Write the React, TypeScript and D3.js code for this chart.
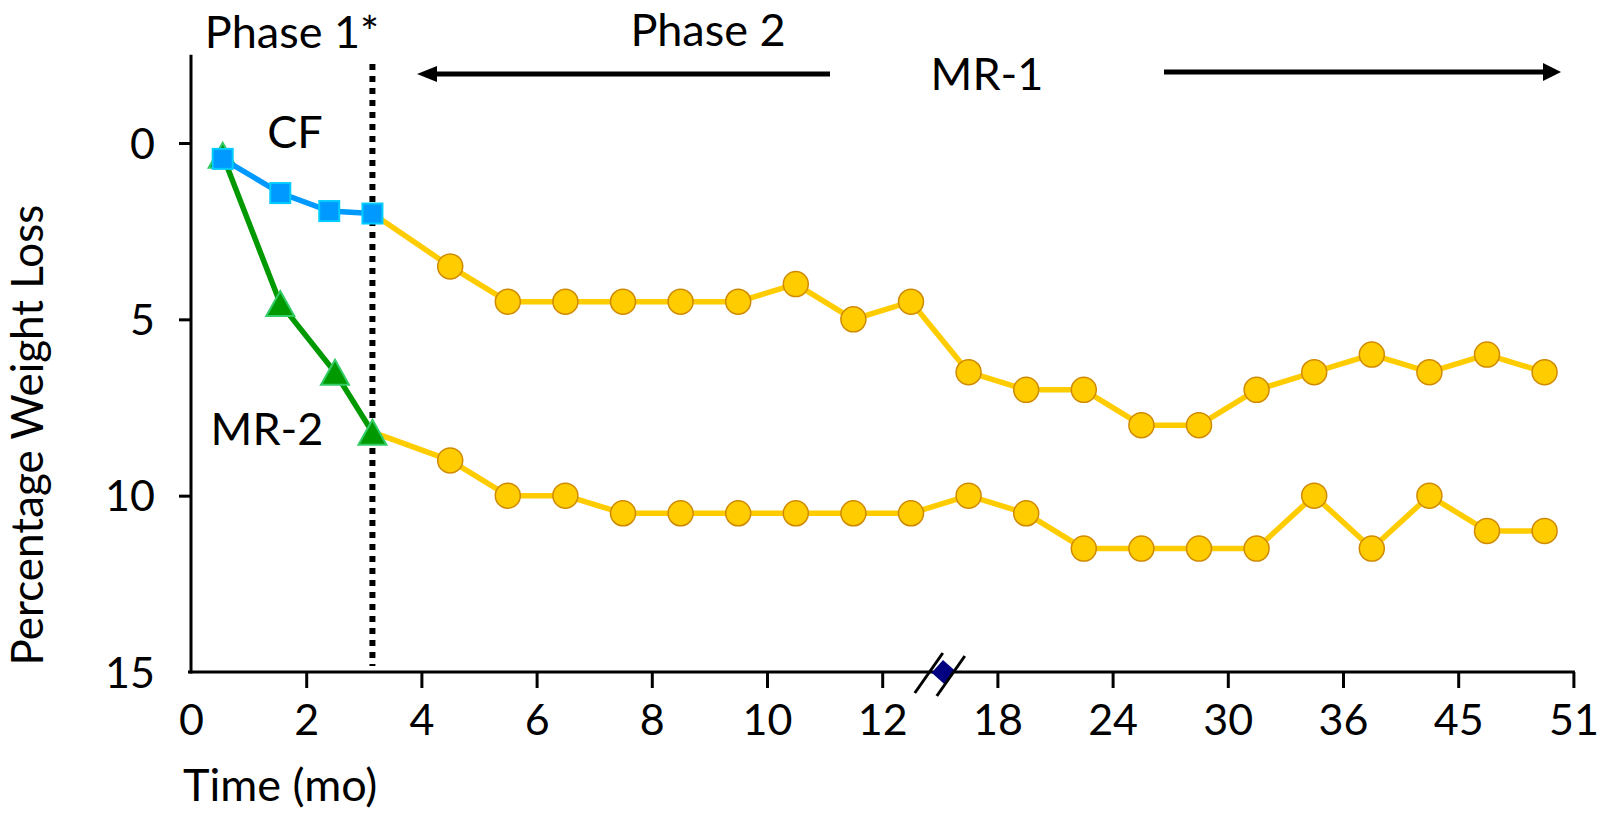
import React, { useEffect, useRef } from "react";
import * as d3 from "d3";

// axis labels (the x axis is broken between 12 and 18 months)
const xTicks = [0, 2, 4, 6, 8, 10, 12, 18, 24, 30, 36, 45, 51];
const yTicks = [0, 5, 10, 15];

// phase 1: CF group and MR-2 group (months, % weight loss)
const cfMonths = [0.55, 1.55, 2.4, 3.15];
const cfLoss = [0.45, 1.42, 1.93, 2.0];
const mr2Months = [0.55, 1.55, 2.5, 3.15];
const mr2Loss = [0.35, 4.55, 6.5, 8.2];

// phase 2: MR-1 follow up for both groups
const mr1Months = [4.5, 5.5, 6.5, 7.5, 8.5, 9.5, 10.5, 11.5, 13.5, 16.5, 19.5, 22.5, 25.5, 28.5, 31.5, 34.5, 38.25, 42.75, 46.5, 49.5];
const mr1AfterCF = [3.5, 4.5, 4.5, 4.5, 4.5, 4.5, 4.0, 5.0, 4.5, 6.5, 7.0, 7.0, 8.0, 8.0, 7.0, 6.5, 6.0, 6.5, 6.0, 6.5];
const mr1AfterMR2 = [9.0, 10.0, 10.0, 10.5, 10.5, 10.5, 10.5, 10.5, 10.5, 10.0, 10.5, 11.5, 11.5, 11.5, 11.5, 10.0, 11.5, 10.0, 11.0, 11.0];

const phaseSplit = 3.15;
const axisBreak = 15;
const breakMarker = { month: 15.2, loss: 15 };
const yAxisTop = -2.5;

const FONT = "Lato, 'Open Sans', sans-serif";

export default function App() {
  const ref = useRef<SVGSVGElement>(null);

  useEffect(() => {
    const width = 1600;
    const height = 813;
    const left = 191;
    const step = 115.2;

    const svg = d3.select(ref.current).attr("width", width).attr("height", height);
    svg.selectAll("*").remove();

    const x = d3.scaleLinear().domain(xTicks).range(xTicks.map((_, i) => left + i * step));
    const y = d3.scaleLinear().domain([0, 15]).range([143, 672]);

    // x axis
    const gx = svg.append("g")
      .attr("transform", `translate(0, ${y(15)})`)
      .call(d3.axisBottom(x).tickValues(xTicks).tickSize(16).tickSizeOuter(0).tickFormat(d3.format("d")))
      .attr("font-family", FONT).attr("font-size", 43);
    gx.select(".domain").remove();
    gx.selectAll(".tick line").attr("stroke", "#000").attr("stroke-width", 3);
    gx.selectAll(".tick").filter((d: any) => d === 0).select("line").remove();
    gx.selectAll(".tick text").attr("y", 63).attr("dy", null).attr("fill", "#000");

    // y axis (inverted)
    const gy = svg.append("g")
      .attr("transform", `translate(${left}, 0)`)
      .call(d3.axisLeft(y).tickValues(yTicks).tickSize(12).tickSizeOuter(0))
      .attr("font-family", FONT).attr("font-size", 43);
    gy.select(".domain").remove();
    gy.selectAll(".tick line").attr("stroke", "#000").attr("stroke-width", 3);
    gy.selectAll(".tick").filter((d: any) => d === 15).select("line").remove();
    gy.selectAll(".tick text").attr("x", -36).attr("dy", "0.35em").attr("fill", "#000");

    svg.append("line").attr("x1", x(0) - 3).attr("x2", x(51) + 1.5)
      .attr("y1", y(15)).attr("y2", y(15)).attr("stroke", "#000").attr("stroke-width", 3);
    svg.append("line").attr("x1", left).attr("x2", left)
      .attr("y1", y(yAxisTop)).attr("y2", y(15) + 1.5).attr("stroke", "#000").attr("stroke-width", 3);

    // break marker + slashes
    svg.append("rect")
      .attr("x", -8.5).attr("y", -8.5).attr("width", 17).attr("height", 17)
      .attr("fill", "#000080")
      .attr("transform", `translate(${x(breakMarker.month)}, ${y(breakMarker.loss)}) rotate(42)`);
    [[-11, 0], [11, 3]].forEach(([off, dy]) => {
      svg.append("line")
        .attr("x1", x(axisBreak) + off - 14).attr("y1", y(15) + 21 + dy)
        .attr("x2", x(axisBreak) + off + 14).attr("y2", y(15) - 19 + dy)
        .attr("stroke", "#000").attr("stroke-width", 3);
    });

    const line = d3.line<[number, number]>().x(d => x(d[0])).y(d => y(d[1]));
    const zip = (a: number[], b: number[]) => a.map((v, i) => [v, b[i]] as [number, number]);

    const cf = zip(cfMonths, cfLoss);
    const mr2 = zip(mr2Months, mr2Loss);
    const upper = zip(mr1Months, mr1AfterCF);
    const lower = zip(mr1Months, mr1AfterMR2);

    // MR-1 lines
    [[cf[cf.length - 1], ...upper], [mr2[mr2.length - 1], ...lower]].forEach(pts => {
      svg.append("path").attr("d", line(pts)).attr("fill", "none")
        .attr("stroke", "#FFCC00").attr("stroke-width", 5.5).attr("stroke-linejoin", "round");
    });

    // phase divider
    svg.append("line").attr("x1", x(phaseSplit)).attr("x2", x(phaseSplit))
      .attr("y1", 64).attr("y2", 666)
      .attr("stroke", "#000").attr("stroke-width", 6).attr("stroke-dasharray", "6 6");

    svg.append("g").selectAll("circle").data([...upper, ...lower]).join("circle")
      .attr("cx", d => x(d[0])).attr("cy", d => y(d[1])).attr("r", 12.5)
      .attr("fill", "#FFCC00").attr("stroke", "#D08A00").attr("stroke-width", 1.5);

    // MR-2
    svg.append("path").attr("d", line(mr2)).attr("fill", "none")
      .attr("stroke", "#009900").attr("stroke-width", 5.5);
    const tw = 28, th = 25;
    svg.append("g").selectAll("path").data(mr2).join("path")
      .attr("d", `M0,${-th / 2}L${tw / 2},${th / 2}L${-tw / 2},${th / 2}Z`)
      .attr("transform", d => `translate(${x(d[0])}, ${y(d[1])})`)
      .attr("fill", "#009900").attr("stroke", "#33CC66").attr("stroke-width", 2);

    // CF
    svg.append("path").attr("d", line(cf)).attr("fill", "none")
      .attr("stroke", "#0099FF").attr("stroke-width", 5.5);
    svg.append("g").selectAll("rect").data(cf).join("rect")
      .attr("x", d => x(d[0]) - 10).attr("y", d => y(d[1]) - 10)
      .attr("width", 20).attr("height", 20)
      .attr("fill", "#0099FF").attr("stroke", "#00CCFF").attr("stroke-width", 2);

    // arrows
    svg.append("line").attr("x1", 830).attr("x2", 434).attr("y1", 74).attr("y2", 74)
      .attr("stroke", "#000").attr("stroke-width", 5);
    svg.append("path").attr("d", "M417,74L437,66L437,82Z").attr("fill", "#000");
    svg.append("line").attr("x1", 1164).attr("x2", 1546).attr("y1", 72).attr("y2", 72)
      .attr("stroke", "#000").attr("stroke-width", 5);
    svg.append("path").attr("d", "M1561,72L1543,63L1543,81Z").attr("fill", "#000");

    // labels
    const label = (txt: string, lx: number, ly: number, anchor = "middle") =>
      svg.append("text").attr("x", lx).attr("y", ly).attr("text-anchor", anchor)
        .attr("font-family", FONT).attr("font-size", 45).attr("fill", "#000").text(txt);

    label("Phase 1*", 292, 48);
    label("Phase 2", 708, 46);
    label("MR-1", 987, 90);
    label("CF", 295, 148);
    label("MR-2", 267, 445);
    label("Time (mo)", 183, 801, "start");

    svg.append("text")
      .attr("transform", `translate(43, 435) rotate(-90)`)
      .attr("text-anchor", "middle")
      .attr("font-family", FONT).attr("font-size", 44).attr("fill", "#000")
      .text("Percentage Weight Loss");
  }, []);

  return <svg ref={ref} style={{ position: "absolute", left: 0, top: 0, background: "#fff" }} />;
}
